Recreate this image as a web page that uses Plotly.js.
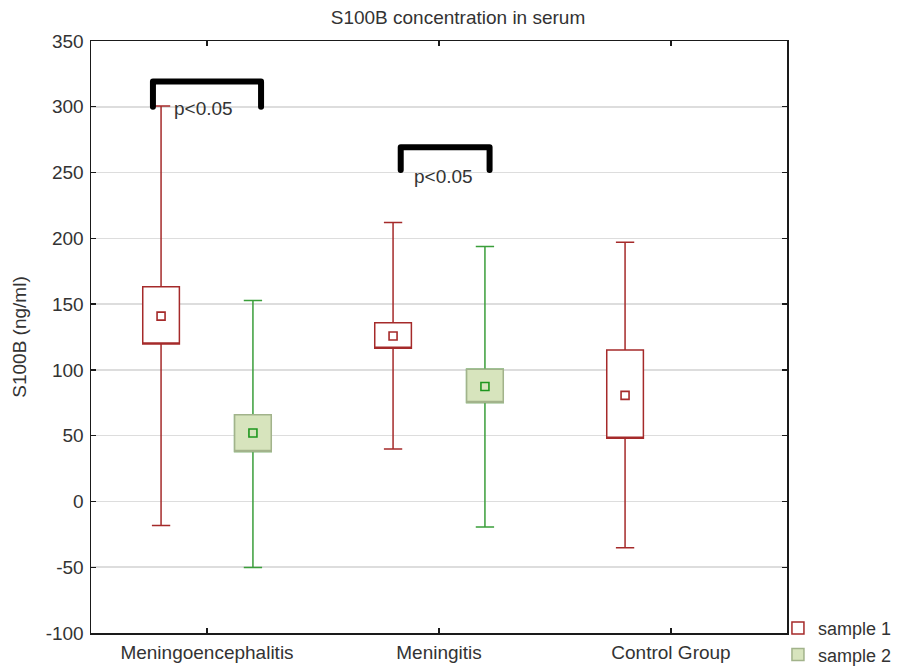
<!DOCTYPE html>
<html>
<head>
<meta charset="utf-8">
<script src="https://cdn.plot.ly/plotly-3.0.1.min.js"></script>
<style>
html,body{margin:0;padding:0;background:#fff;}
#chart{width:898px;height:667px;}
.scatterlayer .js-line{stroke-linecap:round !important;stroke-linejoin:round !important;}
</style>
</head>
<body>
<div id="chart"></div>
<script>
// ---- data ----
var categories = ['Meningoencephalitis', 'Meningitis', 'Control Group'];
var seriesNames = ['sample 1', 'sample 2'];

var s1Mean      = [140.9, 125.8, 80.6];
var s1BoxLow    = [119.7, 116.4, 48.0];
var s1BoxHigh   = [163.2, 135.9, 115.2];
var s1WhiskLow  = [-18.2, 39.9, -35.2];
var s1WhiskHigh = [300.5, 212.1, 197.0];

var s2Mean      = [52.0, 87.4, null];
var s2BoxLow    = [37.9, 75.3, null];
var s2BoxHigh   = [65.9, 100.5, null];
var s2WhiskLow  = [-50.2, -19.4, null];
var s2WhiskHigh = [152.8, 193.7, null];

var sigLabel = 'p<0.05';
var sig1X = [-0.233, -0.233, 0.233, 0.233];
var sig1Y = [300, 319.2, 319.2, 300];
var sig2X = [0.835, 0.835, 1.218, 1.218];
var sig2Y = [252, 269.2, 269.2, 252];
var sigTextX = [-0.017, 1.02];
var sigTextY = [299, 247];

var yTicks = [-100, -50, 0, 50, 100, 150, 200, 250, 300, 350];

// ---- styles / positions ----
var OFF = 0.198, BOXW = 0.158;
var RED = '#a52a2a', GREEN = '#3a9e3a', GFILL = '#d7e4bd', GEDGE = '#a2b38b';
var FONT = 'Liberation Sans, Arial, sans-serif';
var TXT = '#333333';

function idx(arr, shift) {
  var out = [];
  for (var i = 0; i < arr.length; i++) { if (arr[i] !== null) out.push(i + shift); }
  return out;
}
function nn(arr) { return arr.filter(function (v) { return v !== null; }); }

var x1 = idx(s1Mean, -OFF);
var x2 = idx(s2Mean, OFF);

var traces = [
  { type: 'box', name: seriesNames[0], x: x1,
    q1: s1BoxLow, median: s1BoxLow, q3: s1BoxHigh,
    lowerfence: s1WhiskLow, upperfence: s1WhiskHigh,
    width: BOXW, whiskerwidth: 0.5,
    fillcolor: '#ffffff', line: { color: RED, width: 1.5 },
    hoverinfo: 'skip', showlegend: true },
  { type: 'box', name: seriesNames[1] + ' whiskers', x: x2,
    q1: nn(s2BoxLow), median: nn(s2BoxLow), q3: nn(s2BoxHigh),
    lowerfence: nn(s2WhiskLow), upperfence: nn(s2WhiskHigh),
    width: BOXW, whiskerwidth: 0.5,
    fillcolor: GFILL, line: { color: GREEN, width: 1.5 },
    hoverinfo: 'skip', showlegend: false },
  { type: 'box', name: seriesNames[1], x: x2,
    q1: nn(s2BoxLow), median: nn(s2BoxLow), q3: nn(s2BoxHigh),
    lowerfence: nn(s2BoxLow), upperfence: nn(s2BoxHigh),
    width: BOXW, whiskerwidth: 0,
    fillcolor: GFILL, line: { color: GEDGE, width: 1.5 },
    hoverinfo: 'skip', showlegend: true },
  { type: 'scatter', mode: 'markers', x: x1, y: s1Mean, showlegend: false,
    marker: { symbol: 'square-open', size: 8, color: RED, line: { width: 1.6, color: RED } }, hoverinfo: 'skip' },
  { type: 'scatter', mode: 'markers', x: x2, y: nn(s2Mean), showlegend: false,
    marker: { symbol: 'square-open', size: 8, color: '#1e961e', line: { width: 1.6, color: '#1e961e' } }, hoverinfo: 'skip' },
  { type: 'scatter', mode: 'lines', x: sig1X, y: sig1Y, showlegend: false, hoverinfo: 'skip',
    line: { color: '#000000', width: 6 } },
  { type: 'scatter', mode: 'lines', x: sig2X, y: sig2Y, showlegend: false, hoverinfo: 'skip',
    line: { color: '#000000', width: 6 } }
];

var annotations = sigTextX.map(function (xv, i) {
  return { x: xv, y: sigTextY[i], xref: 'x', yref: 'y', text: sigLabel, showarrow: false,
           xanchor: 'center', yanchor: 'middle', font: { family: FONT, size: 19, color: TXT } };
});

var layout = {
  width: 898, height: 667,
  paper_bgcolor: '#ffffff', plot_bgcolor: '#ffffff',
  margin: { l: 91, r: 111, t: 41, b: 34, autoexpand: false },
  font: { family: FONT, size: 19, color: TXT },
  title: { text: 'S100B concentration in serum', x: 0.51, xanchor: 'center', y: 0.974, yanchor: 'middle',
           font: { family: FONT, size: 19, color: TXT } },
  boxmode: 'overlay',
  showlegend: true,
  legend: { xref: 'paper', yref: 'paper', x: 0.987, y: 0.039, xanchor: 'left', yanchor: 'top',
            font: { family: FONT, size: 18, color: TXT }, bgcolor: 'rgba(0,0,0,0)', borderwidth: 0,
            tracegroupgap: 0, itemwidth: 30 },
  xaxis: {
    range: [-0.5, 2.5], tickvals: [0, 1, 2], ticktext: categories,
    showgrid: false, zeroline: false,
    showline: true, linecolor: '#1a1a1a', linewidth: 1.5, mirror: 'ticks',
    ticks: 'inside', ticklen: 5, tickwidth: 1.3, tickcolor: '#1a1a1a',
    ticklabelstandoff: 2,
    tickfont: { family: FONT, size: 19, color: TXT }
  },
  yaxis: {
    range: [-100, 350], tickvals: yTicks, ticktext: yTicks.map(String),
    showgrid: true, gridcolor: '#dddddd', gridwidth: 1.5, zeroline: false,
    showline: true, linecolor: '#1a1a1a', linewidth: 1.5, mirror: 'ticks',
    ticks: 'inside', ticklen: 5, tickwidth: 1.3, tickcolor: '#1a1a1a',
    ticklabelstandoff: 2,
    tickfont: { family: FONT, size: 19, color: TXT },
    title: { text: 'S100B (ng/ml)', standoff: 14, font: { family: FONT, size: 19, color: TXT } }
  },
  annotations: annotations
};

Plotly.newPlot('chart', traces, layout, { staticPlot: true, displayModeBar: false });
</script>
</body>
</html>
